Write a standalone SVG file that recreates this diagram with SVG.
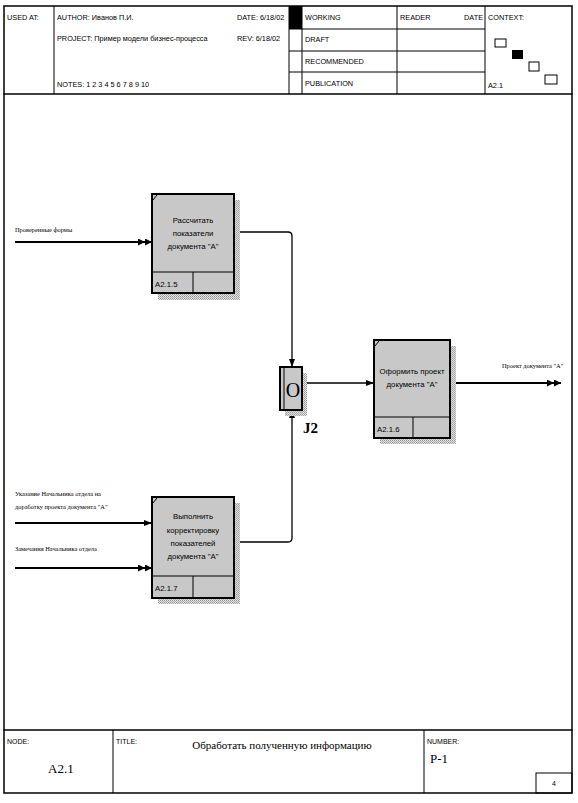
<svg xmlns="http://www.w3.org/2000/svg" width="578" height="803" viewBox="0 0 578 803">
<defs>
<style>
.frame{fill:none;stroke:#000;stroke-width:1.5}
.ln{stroke:#000;stroke-width:1;fill:none}
.hd{font-family:"Liberation Sans",Arial,sans-serif;font-size:7.3px;fill:#000}
.sm{font-family:"Liberation Sans",Arial,sans-serif;font-size:7px;fill:#000}
.box{fill:#c8c8c8;stroke:#000;stroke-width:2}
.shadow{fill:url(#dots)}
.bt{font-family:"Liberation Sans",Arial,sans-serif;font-size:7.8px;fill:#000;text-anchor:middle}
.id{font-family:"Liberation Sans",Arial,sans-serif;font-size:7.8px;fill:#000}
.al{font-family:"Liberation Serif","Times New Roman",serif;font-size:6.4px;fill:#000}
.conn{fill:none;stroke:#000;stroke-width:1.3}
.in{fill:none;stroke:#000;stroke-width:1.8}
.ser{font-family:"Liberation Serif","Times New Roman",serif;fill:#000}
</style>
<pattern id="dots" width="2" height="2" patternUnits="userSpaceOnUse">
<rect width="2" height="2" fill="#e0e0e0"/>
<rect width="1" height="1" fill="#9a9a9a"/>
<rect x="1" y="1" width="1" height="1" fill="#b0b0b0"/>
</pattern>
<marker id="arr" viewBox="0 0 8 6" refX="8" refY="3" markerWidth="8" markerHeight="6" orient="auto" markerUnits="userSpaceOnUse">
<path d="M0,0 L8,3 L0,6 z" fill="#000"/>
</marker>
<marker id="arr2" viewBox="0 0 14 7" refX="14" refY="3.5" markerWidth="14" markerHeight="7" orient="auto" markerUnits="userSpaceOnUse">
<path d="M0,0 L7,3.5 L0,7 z M7,0 L14,3.5 L7,7 z" fill="#000"/>
</marker>
</defs>
<rect width="578" height="803" fill="#fff"/>

<g id="header">
<rect class="frame" x="4" y="6" width="568" height="88"/>
<line class="ln" x1="54" y1="6" x2="54" y2="94"/>
<line class="ln" x1="289" y1="6" x2="289" y2="94"/>
<line class="ln" x1="302" y1="6" x2="302" y2="94"/>
<line class="ln" x1="397" y1="6" x2="397" y2="94"/>
<line class="ln" x1="485" y1="6" x2="485" y2="94"/>
<line class="ln" x1="289" y1="29" x2="485" y2="29"/>
<line class="ln" x1="289" y1="51" x2="485" y2="51"/>
<line class="ln" x1="289" y1="72" x2="485" y2="72"/>
<rect x="289" y="6" width="13" height="23" fill="#000"/>
<text class="hd" x="7" y="20">USED AT:</text>
<text class="hd" x="57" y="20">AUTHOR:  Иванов П.И.</text>
<text class="hd" x="237" y="20">DATE:  6/18/02</text>
<text class="hd" x="57" y="41">PROJECT:  Пример модели бизнес-процесса</text>
<text class="hd" x="237" y="41">REV:    6/18/02</text>
<text class="hd" x="57" y="87">NOTES:  1  2  3  4  5  6  7  8  9  10</text>
<text class="hd" x="305" y="20">WORKING</text>
<text class="hd" x="305" y="42">DRAFT</text>
<text class="hd" x="305" y="64">RECOMMENDED</text>
<text class="hd" x="305" y="86">PUBLICATION</text>
<text class="hd" x="400" y="20">READER</text>
<text class="hd" x="483" y="20" text-anchor="end">DATE</text>
<text class="hd" x="488" y="20">CONTEXT:</text>
<text class="hd" x="488" y="88">A2.1</text>
<rect x="495" y="39" width="11" height="8" fill="#fff" stroke="#000" stroke-width="1"/>
<rect x="512" y="50" width="11" height="9" fill="#000"/>
<rect x="529" y="62" width="10" height="9" fill="#fff" stroke="#000" stroke-width="1"/>
<rect x="545" y="75" width="12" height="9" fill="#fff" stroke="#000" stroke-width="1"/>
</g>

<g id="body-frame">
<line class="frame" x1="4" y1="94" x2="4" y2="730"/>
<line class="frame" x1="572" y1="94" x2="572" y2="730"/>
</g>

<g id="connectors">
<path class="in" d="M15,242 H152" marker-end="url(#arr2)"/>
<text class="al" x="15" y="232">Проверенные формы</text>
<path class="in" d="M15,523 H152" marker-end="url(#arr)"/>
<text class="al" x="15" y="496">Указание Начальника отдела на</text>
<text class="al" x="15" y="509">доработку проекта документа "А"</text>
<path class="in" d="M15,568 H152" marker-end="url(#arr2)"/>
<text class="al" x="15" y="551">Замечания Начальника отдела</text>
<path class="conn" d="M234,232 H288 Q292,232 292,236 V367" marker-end="url(#arr)"/>
<path class="conn" d="M234,542 H288 Q292,542 292,538 V410" marker-end="url(#arr)"/>
<path class="conn" d="M302,383 H374" marker-end="url(#arr)"/>
<path class="in" d="M450,383 H561" marker-end="url(#arr2)"/>
<text class="al" x="502" y="368">Проект документа "А"</text>
</g>

<g id="A2.1.5">
<rect class="shadow" x="158" y="200" width="82" height="100"/>
<rect class="box" x="152" y="194" width="82" height="99"/>
<line class="ln" x1="152" y1="272" x2="234" y2="272" stroke-width="1.3"/>
<line class="ln" x1="193" y1="272" x2="193" y2="293" stroke-width="1.3"/>
<line class="ln" x1="153" y1="200" x2="157" y2="195"/>
<text class="bt" x="193" y="223">Рассчитать</text>
<text class="bt" x="193" y="236">показатели</text>
<text class="bt" x="193" y="249">документа "А"</text>
<text class="id" x="155" y="287">A2.1.5</text>
</g>

<g id="A2.1.7">
<rect class="shadow" x="158" y="503" width="82" height="101"/>
<rect class="box" x="152" y="497" width="82" height="101"/>
<line class="ln" x1="152" y1="576" x2="234" y2="576" stroke-width="1.3"/>
<line class="ln" x1="193" y1="576" x2="193" y2="598" stroke-width="1.3"/>
<line class="ln" x1="153" y1="503" x2="157" y2="498"/>
<text class="bt" x="193" y="519">Выполнить</text>
<text class="bt" x="193" y="533">корректировку</text>
<text class="bt" x="193" y="546">показателей</text>
<text class="bt" x="193" y="559">документа "А"</text>
<text class="id" x="155" y="591">A2.1.7</text>
</g>

<g id="A2.1.6">
<rect class="shadow" x="380" y="346" width="76" height="98"/>
<rect class="box" x="374" y="340" width="76" height="98"/>
<line class="ln" x1="374" y1="417" x2="450" y2="417" stroke-width="1.3"/>
<line class="ln" x1="413" y1="417" x2="413" y2="438" stroke-width="1.3"/>
<line class="ln" x1="375" y1="346" x2="379" y2="341"/>
<text class="bt" x="412" y="374">Оформить проект</text>
<text class="bt" x="412" y="387">документа "А"</text>
<text class="id" x="377" y="432">A2.1.6</text>
</g>

<g id="J2">
<rect class="shadow" x="285" y="373" width="22" height="43"/>
<rect x="280" y="367" width="22" height="43" fill="#c8c8c8" stroke="#000" stroke-width="2"/>
<line class="ln" x1="284" y1="368" x2="284" y2="409" stroke-width="1.2"/>
<text class="ser" x="293" y="397" font-size="20" text-anchor="middle">O</text>
<text class="ser" x="303" y="433" font-size="15" font-weight="bold">J2</text>
</g>

<g id="footer">
<rect class="frame" x="4" y="730" width="568" height="63"/>
<line class="ln" x1="113" y1="730" x2="113" y2="793"/>
<line class="ln" x1="424" y1="730" x2="424" y2="793"/>
<rect x="536" y="773" width="36" height="20" fill="none" stroke="#000" stroke-width="1"/>
<text class="sm" x="7" y="744">NODE:</text>
<text class="ser" x="48" y="773" font-size="13">A2.1</text>
<text class="sm" x="116" y="744">TITLE:</text>
<text class="ser" x="282" y="749" font-size="11" text-anchor="middle">Обработать полученную информацию</text>
<text class="sm" x="427" y="744">NUMBER:</text>
<text class="ser" x="430" y="763" font-size="13">P-1</text>
<text class="sm" x="552" y="786">4</text>
</g>
</svg>
